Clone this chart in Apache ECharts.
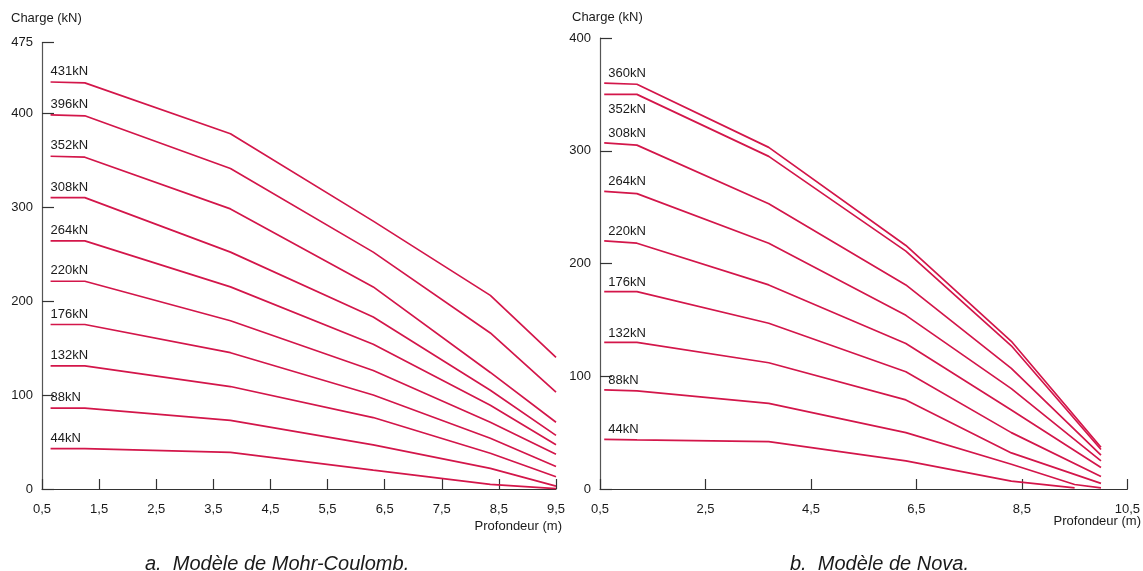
<!DOCTYPE html>
<html>
<head>
<meta charset="utf-8">
<script src="https://cdn.jsdelivr.net/npm/echarts@6/dist/echarts.min.js"></script>
<style>
html,body{margin:0;padding:0;background:#fff;}
#chart{width:1143px;height:571px;}
</style>
</head>
<body>
<div id="chart"></div>
<script>
// ---- Model a: Mohr-Coulomb ----
const depthsMC = [0.65, 1.25, 3.8, 6.3, 8.35, 9.5];
const loadsMC = [431, 396, 352, 308, 264, 220, 176, 132, 88, 44];
const mc431 = [433, 432, 378, 285, 206, 140];
const mc396 = [398, 397, 341, 252, 166, 103];
const mc352 = [354, 353, 298, 215, 124, 71];
const mc308 = [310, 310, 252, 183, 105, 57];
const mc264 = [264, 264, 215, 154, 89, 47];
const mc220 = [221, 221, 179, 126, 71, 37];
const mc176 = [175, 175, 145, 100, 54, 24];
const mc132 = [131, 131, 109, 76, 38, 13];
const mc88  = [86, 86, 73, 47, 22, 3];
const mc44  = [43, 43, 39, 20, 5, 0.5];
const xTicksMC = [0.5, 1.5, 2.5, 3.5, 4.5, 5.5, 6.5, 7.5, 8.5, 9.5];
const yTicksMC = [0, 100, 200, 300, 400, 475];

// ---- Model b: Nova ----
const depthsNova = [0.58, 1.2, 3.7, 6.3, 8.3, 10.0];
const depthsNova88 = [0.58, 1.2, 3.7, 6.3, 8.3, 9.5, 10.0];
const depthsNova44 = [0.58, 1.2, 3.7, 6.3, 8.3, 9.5];
const loadsNova = [360, 352, 308, 264, 220, 176, 132, 88, 44];
const nv360 = [360, 359, 303, 216, 131, 37];
const nv352 = [350, 350, 295, 211, 127, 35];
const nv308 = [307, 305, 253, 181, 107, 30];
const nv264 = [264, 262, 218, 154, 89, 25];
const nv220 = [220, 218, 181, 129, 70, 19];
const nv176 = [175, 175, 147, 104, 50, 11];
const nv132 = [130, 130, 112, 79, 32, 5];
const nv88  = [88, 87, 76, 50, 22, 4, 1];
const nv44  = [44, 43.5, 42, 25, 7, 1];
const xTicksNova = [0.5, 2.5, 4.5, 6.5, 8.5, 10.5];
const yTicksNova = [0, 100, 200, 300, 400];

const LINE_COLOR = '#d3164a';
const FONT = "'Liberation Sans', Arial, Helvetica, sans-serif";

function pts(depths, vals) { return depths.map((d, i) => [d, vals[i]]); }

const mcSets = [mc431, mc396, mc352, mc308, mc264, mc220, mc176, mc132, mc88, mc44];
const nvSets = [nv360, nv352, nv308, nv264, nv220, nv176, nv132, nv88, nv44];
const nvDepths = [depthsNova, depthsNova, depthsNova, depthsNova, depthsNova, depthsNova, depthsNova, depthsNova88, depthsNova44];

const series = [];
mcSets.forEach((v, i) => {
  series.push({
    type: 'line', xAxisIndex: 0, yAxisIndex: 0, data: pts(depthsMC, v),
    showSymbol: false, symbol: 'none', silent: true, animation: false,
    lineStyle: { color: LINE_COLOR, width: 1.7 }
  });
});
nvSets.forEach((v, i) => {
  series.push({
    type: 'line', xAxisIndex: 1, yAxisIndex: 1, data: pts(nvDepths[i], v),
    showSymbol: false, symbol: 'none', silent: true, animation: false,
    lineStyle: { color: LINE_COLOR, width: 1.7 }
  });
});

// labels at the start of each curve
const labelStyle = { color: '#1a1a1a', fontSize: 13, fontFamily: FONT, opacity: 1 };
series.push({
  type: 'scatter', xAxisIndex: 0, yAxisIndex: 0, symbolSize: 0, silent: true, animation: false,
  itemStyle: { opacity: 1 },
  data: mcSets.map((v, i) => ({
    value: [depthsMC[0], v[0]],
    label: Object.assign({ show: true, position: 'top', distance: 4, align: 'left', offset: [0, 0],
      formatter: loadsMC[i] + 'kN' }, labelStyle)
  }))
});
series.push({
  type: 'scatter', xAxisIndex: 1, yAxisIndex: 1, symbolSize: 0, silent: true, animation: false,
  itemStyle: { opacity: 1 },
  data: nvSets.map((v, i) => ({
    value: [nvDepths[i][0], v[0]],
    label: Object.assign({ show: true, position: loadsNova[i] === 352 ? 'bottom' : 'top',
      distance: loadsNova[i] === 352 ? 9 : 3, align: 'left', offset: [4, 0],
      formatter: loadsNova[i] + 'kN' }, labelStyle)
  }))
});

function fmtX(v) { return (Math.round(v * 10) / 10).toFixed(1).replace('.', ','); }

function xAxisCfg(idx, min, max, ticks) {
  return {
    type: 'value', gridIndex: idx, min: min, max: max,
    splitLine: { show: false },
    axisLine: { show: true, onZero: false, lineStyle: { color: '#333', width: 1.2 } },
    axisTick: { show: true, inside: true, length: 10, customValues: ticks, lineStyle: { color: '#333', width: 1.2 } },
    axisLabel: { show: true, customValues: ticks, margin: 14, formatter: fmtX, color: '#1a1a1a', fontSize: 13, fontFamily: FONT }
  };
}
function yAxisCfg(idx, min, max, ticks) {
  return {
    type: 'value', gridIndex: idx, min: min, max: max,
    splitLine: { show: false },
    axisLine: { show: true, lineStyle: { color: '#555', width: 1.2 } },
    axisTick: { show: true, inside: true, length: 12, customValues: ticks, lineStyle: { color: '#333', width: 1.2 } },
    axisLabel: { show: true, customValues: ticks, margin: 9, color: '#1a1a1a', fontSize: 13, fontFamily: FONT }
  };
}

const option = {
  backgroundColor: '#fff',
  animation: false,
  grid: [
    { left: 42, right: 587, top: 42.5, bottom: 82, containLabel: false },
    { left: 600, right: 14, top: 38, bottom: 82, containLabel: false }
  ],
  xAxis: [xAxisCfg(0, 0.5, 9.5, xTicksMC), xAxisCfg(1, 0.5, 10.5, xTicksNova)],
  yAxis: [yAxisCfg(0, 0, 475, yTicksMC), yAxisCfg(1, 0, 400, yTicksNova)],
  series: series,
  graphic: [
    { type: 'text', left: 11, top: 12, style: { text: 'Charge (kN)', fill: '#1a1a1a', font: '13px ' + FONT } },
    { type: 'text', left: 572, top: 11, style: { text: 'Charge (kN)', fill: '#1a1a1a', font: '13px ' + FONT } },
    { type: 'text', right: 1143 - 562, top: 520, style: { text: 'Profondeur (m)', fill: '#1a1a1a', font: '13px ' + FONT, textAlign: 'right' } },
    { type: 'text', right: 2, top: 515, style: { text: 'Profondeur (m)', fill: '#1a1a1a', font: '13px ' + FONT, textAlign: 'right' } },
    { type: 'text', left: 145, top: 554, style: { text: 'a.  Modèle de Mohr-Coulomb.', fill: '#1a1a1a', font: 'italic 20px ' + FONT } },
    { type: 'text', left: 790, top: 554, style: { text: 'b.  Modèle de Nova.', fill: '#1a1a1a', font: 'italic 20px ' + FONT } }
  ]
};

const chart = echarts.init(document.getElementById('chart'), null, { renderer: 'canvas' });
chart.setOption(option);
</script>
</body>
</html>
